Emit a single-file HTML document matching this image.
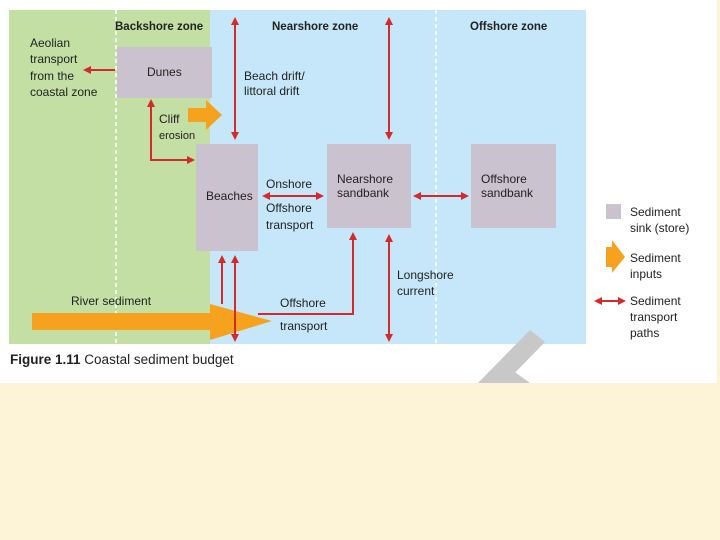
<!DOCTYPE html>
<html><head><style>
body{margin:0;width:720px;height:540px;background:#fdf3d6;overflow:hidden;font-family:"Liberation Sans",sans-serif}
</style></head><body>
<svg width="720" height="540" xmlns="http://www.w3.org/2000/svg" style="position:absolute;left:0;top:0">
<defs>
<marker id="a" markerWidth="8" markerHeight="8" refX="6" refY="4" orient="auto-start-reverse" markerUnits="userSpaceOnUse"><path d="M0,0 L8,4 L0,8 Z" fill="#d42a2a"/></marker>
</defs>
<rect x="0" y="0" width="717" height="383" fill="#fff"/>
<rect x="9" y="10" width="202" height="334" fill="#c3dfa4"/>
<rect x="210" y="10" width="376" height="334" fill="#c6e7f9"/>
<line x1="116" y1="10" x2="116" y2="344" stroke="#fff" stroke-width="1.5" stroke-dasharray="4,3"/>
<line x1="436" y1="10" x2="436" y2="344" stroke="#fff" stroke-width="1.5" stroke-dasharray="4,3"/>
<polygon points="478,383 530,330 545,342 505,383" fill="#c8c8c8"/>
<polygon points="500,383 512,370 530,383" fill="#c8c8c8"/>
<g fill="#cbc2d0">
<rect x="117" y="47" width="95" height="51"/>
<rect x="196" y="144" width="62" height="107"/>
<rect x="327" y="144" width="84" height="84"/>
<rect x="471" y="144" width="85" height="84"/>
<rect x="606" y="204" width="15" height="15"/>
</g>
<g fill="#f7a21e">
<rect x="32" y="313" width="180" height="17"/>
<polygon points="210,304 272,321 210,340"/>
<rect x="188" y="108" width="20" height="14"/>
<polygon points="206,100 222,115 206,130"/>
<rect x="606" y="247" width="8" height="20"/>
<polygon points="612,240 625,257 612,273"/>
</g>
<g stroke="#d42a2a" stroke-width="2" fill="none">
<line x1="235" y1="19" x2="235" y2="138" marker-start="url(#a)" marker-end="url(#a)"/>
<line x1="389" y1="19" x2="389" y2="138" marker-start="url(#a)" marker-end="url(#a)"/>
<line x1="389" y1="236" x2="389" y2="340" marker-start="url(#a)" marker-end="url(#a)"/>
<line x1="222" y1="304" x2="222" y2="257" marker-end="url(#a)"/>
<line x1="235" y1="257" x2="235" y2="340" marker-start="url(#a)" marker-end="url(#a)"/>
<polyline points="258,314 353,314 353,234" marker-end="url(#a)"/>
<line x1="264" y1="196" x2="322" y2="196" marker-start="url(#a)" marker-end="url(#a)"/>
<line x1="415" y1="196" x2="467" y2="196" marker-start="url(#a)" marker-end="url(#a)"/>
<polyline points="151,101 151,160 193,160" marker-start="url(#a)" marker-end="url(#a)"/>
<line x1="115" y1="70" x2="85" y2="70" marker-end="url(#a)"/>
<line x1="596" y1="301" x2="624" y2="301" marker-start="url(#a)" marker-end="url(#a)"/>
</g>
<g font-size="12" fill="#222">
<text x="115" y="30" font-weight="bold" font-size="11.5">Backshore zone</text>
<text x="272" y="30" font-weight="bold" font-size="11.5">Nearshore zone</text>
<text x="470" y="30" font-weight="bold" font-size="11.5">Offshore zone</text>
<text x="30" y="47">Aeolian</text><text x="30" y="63">transport</text><text x="30" y="80">from the</text><text x="30" y="96">coastal zone</text>
<text x="147" y="76">Dunes</text>
<text x="244" y="80">Beach drift/</text><text x="244" y="95">littoral drift</text>
<text x="159" y="123">Cliff</text><text x="159" y="139" font-size="11">erosion</text>
<text x="206" y="200">Beaches</text>
<text x="266" y="188">Onshore</text><text x="266" y="212">Offshore</text><text x="266" y="229">transport</text>
<text x="337" y="183">Nearshore</text><text x="337" y="197">sandbank</text>
<text x="481" y="183">Offshore</text><text x="481" y="197">sandbank</text>
<text x="397" y="279">Longshore</text><text x="397" y="295">current</text>
<text x="71" y="305">River sediment</text>
<text x="280" y="307">Offshore</text><text x="280" y="330">transport</text>
<text x="630" y="216">Sediment</text><text x="630" y="232">sink (store)</text>
<text x="630" y="262">Sediment</text><text x="630" y="278">inputs</text>
<text x="630" y="305">Sediment</text><text x="630" y="321">transport</text><text x="630" y="337">paths</text>
<text x="10" y="364" font-size="13.5"><tspan font-weight="bold">Figure 1.11</tspan> Coastal sediment budget</text>
</g>
</svg>
</body></html>
